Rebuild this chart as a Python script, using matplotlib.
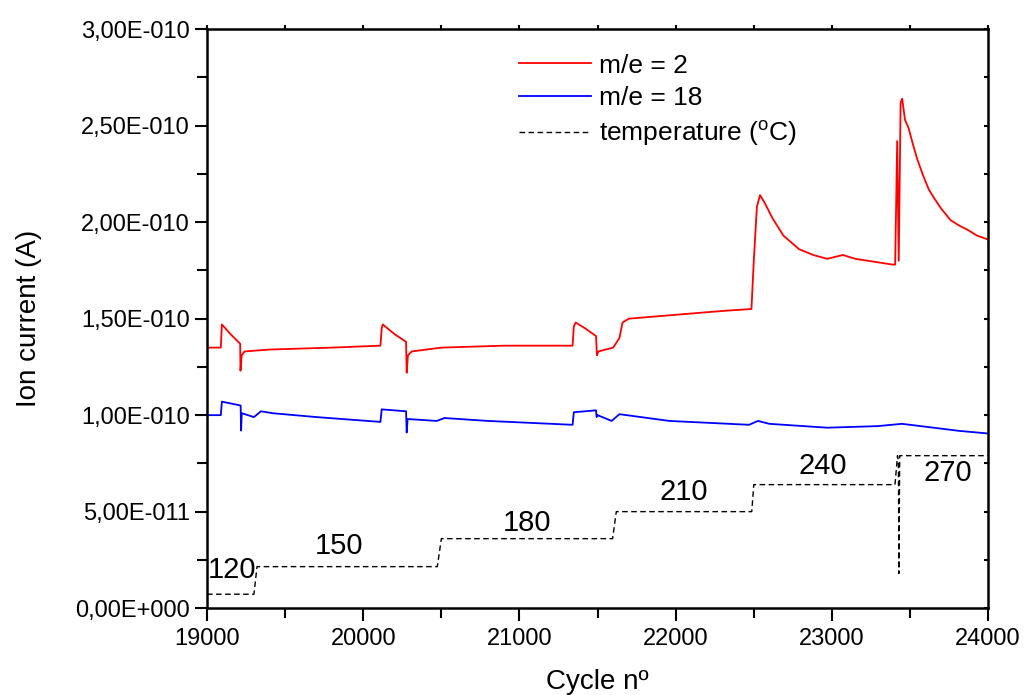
import numpy as np
import matplotlib.pyplot as plt
from matplotlib.ticker import FuncFormatter, MultipleLocator

plt.rcParams['font.family'] = ['Liberation Sans', 'DejaVu Sans']
plt.rcParams['mathtext.fontset'] = 'custom'
plt.rcParams['mathtext.rm'] = 'Liberation Sans'

# m/e = 2 (ion current in units of 1e-10 A)
h2_cycle = [19000, 19088, 19095, 19150, 19212, 19214, 19222, 19240, 19400, 19800, 20110,
            20118, 20125, 20200, 20274, 20278, 20286, 20310, 20500, 20900, 21340,
            21348, 21360, 21420, 21490, 21496, 21505, 21600, 21640, 21660, 21700,
            22000, 22300, 22485, 22500, 22520, 22540, 22570, 22620, 22690, 22790,
            22880, 22970, 23070, 23150, 23230, 23390, 23405, 23418, 23428, 23440,
            23450, 23468, 23490, 23520, 23545, 23580, 23620, 23650, 23700, 23760,
            23820, 23870, 23930, 24000]
h2_current = [1.35, 1.35, 1.47, 1.42, 1.37, 1.23, 1.31, 1.33, 1.34, 1.35, 1.36,
              1.45, 1.47, 1.42, 1.38, 1.22, 1.31, 1.33, 1.35, 1.36, 1.36,
              1.46, 1.48, 1.45, 1.41, 1.31, 1.33, 1.35, 1.40, 1.48, 1.50,
              1.52, 1.54, 1.55, 1.80, 2.08, 2.14, 2.10, 2.02, 1.93, 1.86,
              1.83, 1.81, 1.83, 1.81, 1.80, 1.78, 1.78, 2.42, 1.80, 2.62,
              2.64, 2.53, 2.49, 2.40, 2.33, 2.25, 2.17, 2.13, 2.07, 2.01,
              1.98, 1.96, 1.93, 1.91]

# m/e = 18
h2o_cycle = [19000, 19088, 19095, 19215, 19218, 19222, 19300, 19345, 19420, 19700, 20110,
             20118, 20274, 20278, 20284, 20470, 20520, 20800, 21340,
             21348, 21490, 21494, 21500, 21590, 21640, 21960, 22470, 22526, 22600,
             22970, 23290, 23449, 23600, 23820, 24000]
h2o_current = [1.00, 1.00, 1.07, 1.05, 0.92, 1.01, 0.99, 1.02, 1.01, 0.99, 0.965,
               1.03, 1.02, 0.91, 0.98, 0.97, 0.985, 0.97, 0.95,
               1.015, 1.025, 0.99, 1.0, 0.97, 1.005, 0.97, 0.95, 0.97, 0.955,
               0.935, 0.943, 0.955, 0.94, 0.918, 0.905]

# temperature trace (plotted on the current axis, units 1e-10)
temp_cycle = [19000, 19300, 19320, 20474, 20500, 21596, 21620, 22487, 22500,
              23404, 23420, 23426, 23429, 23434, 24000]
temp_level = [0.072, 0.072, 0.215, 0.215, 0.36, 0.36, 0.50, 0.50, 0.64,
              0.64, 0.79, 0.76, 0.18, 0.79, 0.79]

temp_labels = ['120', '150', '180', '210', '240', '270']
temp_label_x = [19160, 19846, 21051, 22051, 22942, 23744]
temp_label_y = [0.20, 0.32, 0.44, 0.60, 0.735, 0.70]

scale = 1e-10

fig = plt.figure(figsize=(10.25, 6.95), dpi=100)
ax = fig.add_axes([0.202, 0.125, 0.762, 0.833])

ax.plot(h2_cycle, np.array(h2_current) * scale, color='#ff0000', lw=1.3, label='m/e = 2')
ax.plot(h2o_cycle, np.array(h2o_current) * scale, color='#0000ff', lw=1.3, label='m/e = 18')
ax.plot(temp_cycle, np.array(temp_level) * scale, color='black', lw=1.0,
        ls=(0, (4, 2.5)), label=r'temperature ($^{\mathrm{o}}$C)')

for t, x, y in zip(temp_labels, temp_label_x, temp_label_y):
    ax.text(x, y * scale, t, fontsize=21, ha='center', va='center')

ax.set_xlim(19000, 24000)
ax.set_ylim(0, 3e-10)
ax.xaxis.set_major_locator(MultipleLocator(1000))
ax.xaxis.set_minor_locator(MultipleLocator(500))
ax.yaxis.set_major_locator(MultipleLocator(0.5e-10))
ax.yaxis.set_minor_locator(MultipleLocator(0.25e-10))


def sci_comma(v, pos):
    if v == 0:
        return '0,00E+000'
    exp = int(np.floor(np.log10(abs(v))))
    mant = v / 10 ** exp
    return '{:.2f}E{}{:03d}'.format(mant, '-' if exp < 0 else '+', abs(exp)).replace('.', ',')


ax.yaxis.set_major_formatter(FuncFormatter(sci_comma))

for s in ax.spines.values():
    s.set_linewidth(1.8)
ax.tick_params(which='both', direction='out', width=1.5, top=False, right=False)
ax.tick_params(which='major', length=9, labelsize=17)
ax.tick_params(which='minor', length=7)
ax.tick_params(axis='x', pad=5)
# small inward ticks on top and right edges, like the original software
ax.tick_params(which='both', top=True, right=True, labeltop=False, labelright=False)
for tk in ax.xaxis.get_major_ticks() + ax.xaxis.get_minor_ticks():
    tk.tick2line.set_markersize(3)
    tk.tick2line.set_marker(2)
for tk in ax.yaxis.get_major_ticks() + ax.yaxis.get_minor_ticks():
    tk.tick2line.set_markersize(3)
    tk.tick2line.set_marker(0)

ax.set_xlabel('Cycle nº', fontsize=20, labelpad=14)
ax.set_ylabel('Ion current (A)', fontsize=20, labelpad=24)

ax.legend(loc='upper left', bbox_to_anchor=(0.4, 0.958), frameon=False, fontsize=19,
          handlelength=2.7, handletextpad=0.3, labelspacing=0.32, borderpad=0,
          borderaxespad=0)

fig.savefig('out.png', dpi=100)
